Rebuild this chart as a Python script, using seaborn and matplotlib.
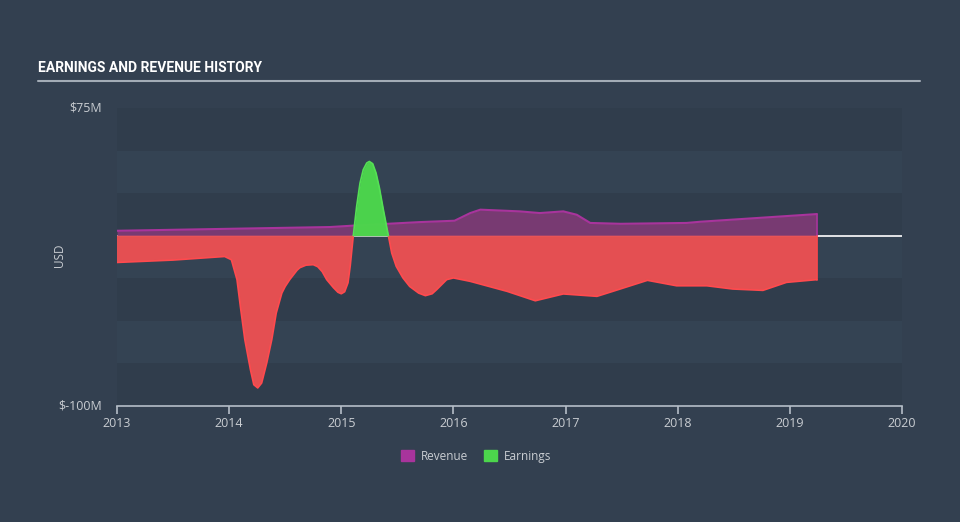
import numpy as np
import pandas as pd
import matplotlib
matplotlib.use("Agg")
import matplotlib.pyplot as plt
import matplotlib.patches as mpatches
import seaborn as sns

# ---- data (USD millions) ----
earn_years = [2013.00, 2013.50, 2013.96, 2014.02, 2014.07, 2014.10, 2014.14, 2014.19,
              2014.22, 2014.255, 2014.29, 2014.335, 2014.38, 2014.42, 2014.47, 2014.50,
              2014.54, 2014.605, 2014.63, 2014.685, 2014.75, 2014.79, 2014.83, 2014.87,
              2014.93, 2014.97, 2015.00, 2015.03, 2015.06, 2015.08, 2015.107,
              2015.137, 2015.167, 2015.196, 2015.227, 2015.25, 2015.28, 2015.31, 2015.34,
              2015.375, 2015.42,
              2015.45, 2015.49, 2015.55, 2015.61, 2015.69, 2015.75, 2015.81, 2015.85,
              2015.94, 2016.00, 2016.15, 2016.48, 2016.73, 2016.98,
              2017.28, 2017.42, 2017.73, 2017.99, 2018.26, 2018.49, 2018.76, 2018.97,
              2019.24]
earn_vals = [-15.7, -14.3, -12.2, -14.1, -25.8, -41.5, -61.1, -78.7,
             -87.5, -89.4, -86.5, -74.8, -61.1, -45.4, -33.7, -29.8,
             -25.8, -20.3, -18.8, -17.3, -17.0, -18.2, -21.1, -25.8,
             -30.5, -33.2, -34.1, -32.9, -27.6, -17.6, 0.0,
             17.2, 30.9, 38.8, 42.7, 43.6, 42.3, 36.8, 28.0,
             15.3, 0.0,
             -10.2, -18.0, -24.8, -29.8, -33.7, -35.2, -34.1, -31.7,
             -25.8, -24.8, -26.8, -32.7, -38.2, -34.2,
             -35.6, -32.7, -26.2, -29.4, -29.4, -31.3, -32.1, -27.4,
             -25.8]

rev_years = [2013.00, 2014.90, 2015.10, 2015.70, 2016.01, 2016.15, 2016.24, 2016.59,
             2016.77, 2016.98, 2017.10, 2017.22, 2017.49, 2018.08, 2018.20, 2019.24]
rev_vals = [2.9, 5.1, 5.9, 8.0, 8.8, 13.3, 15.3, 14.3,
            13.3, 14.3, 12.3, 7.5, 7.0, 7.5, 8.2, 12.7]

x_ticks = [2013, 2014, 2015, 2016, 2017, 2018, 2019, 2020]
y_tick_vals = [75, -100]
y_tick_labels = ["$75M", "$-100M"]

# ---- style ----
FIG_BG = "#334050"
BAND_DARK = "#303d4c"
BAND_LIGHT = "#344353"
TXT = "#c9cdd2"
REV_FILL = "#7b3a74"
REV_LINE = "#a8349c"
NEG_FILL = "#eb5052"
NEG_LINE = "#ff4a4e"
POS_FILL = "#4cd64c"
POS_LINE = "#55e055"

sns.set_theme(style="dark")
plt.rcParams["font.family"] = ["Open Sans", "DejaVu Sans"]

fig = plt.figure(figsize=(9.6, 5.22), dpi=100, facecolor=FIG_BG)
ax = fig.add_axes([117 / 960, 1 - 406 / 522, (902 - 117) / 960, (406 - 108) / 522])
ax.set_facecolor(FIG_BG)

# horizontal bands
edges = list(range(-100, 76, 25))
for i in range(len(edges) - 1):
    col = BAND_DARK if i % 2 == 0 else BAND_LIGHT
    ax.axhspan(edges[i], edges[i + 1], color=col, lw=0, zorder=0)

# zero line
ax.axhline(0, color="white", lw=1.2, zorder=1)

e = np.array(earn_vals)
ey = np.array(earn_years)

# revenue first, earnings on top
ax.fill_between(rev_years, 0, rev_vals, color=REV_FILL, lw=0, alpha=0.97, zorder=2)
df_r = pd.DataFrame({"year": rev_years, "value": rev_vals})
sns.lineplot(data=df_r, x="year", y="value", ax=ax, color=REV_LINE, lw=1.5, zorder=3,
             estimator=None, sort=False)
ax.plot([rev_years[-1]] * 2, [0, rev_vals[-1]], color=REV_LINE, lw=1.2, zorder=3)

ax.fill_between(ey, 0, e, where=e <= 0, interpolate=True, color=NEG_FILL, lw=0, alpha=0.97, zorder=4)
ax.fill_between(ey, 0, e, where=e >= 0, interpolate=True, color=POS_FILL, lw=0, alpha=0.98, zorder=4)

# outline segments split at zero crossings
cur = 0
sign = np.sign(e[0])
rows = []
for i, (x, v) in enumerate(zip(ey, e)):
    s = np.sign(v) if v != 0 else 0
    if s != 0 and s != sign:
        cur += 1
        sign = s
        rows.append((ey[i - 1], 0.0, cur, "pos" if s > 0 else "neg"))
    rows.append((x, v, cur, "pos" if sign > 0 else "neg"))
df_e = pd.DataFrame(rows, columns=["year", "value", "seg", "kind"])
for k, c in [("neg", NEG_LINE), ("pos", POS_LINE)]:
    sub = df_e[df_e["kind"] == k]
    sns.lineplot(data=sub, x="year", y="value", units="seg", ax=ax, color=c, lw=1.2,
                 zorder=5, estimator=None, sort=False)
ax.plot([earn_years[-1]] * 2, [0, earn_vals[-1]], color=NEG_LINE, lw=1.2, zorder=5)

ax.set_xlim(2013, 2020)
ax.set_ylim(-100, 75)
ax.set_xticks(x_ticks)
ax.set_xticklabels([str(t) for t in x_ticks])
ax.set_yticks(y_tick_vals)
ax.set_yticklabels(y_tick_labels)
ax.set_xlabel("")
ax.set_ylabel("")
ax.grid(False)
for s in ["top", "right", "left"]:
    ax.spines[s].set_visible(False)
ax.spines["bottom"].set_color("#b5bec8")
ax.spines["bottom"].set_linewidth(1.2)
ax.tick_params(axis="x", colors=TXT, labelsize=9, length=6, width=1.2, direction="out",
               pad=2, color="#b5bec8", bottom=True)
ax.tick_params(axis="y", colors=TXT, labelsize=9, length=0, pad=11)
for lab in ax.get_yticklabels():
    lab.set_verticalalignment("center")

fig.text(60 / 960, 1 - 255 / 522, "USD", rotation=90, color=TXT, fontsize=8.5,
         ha="center", va="center")

# title
fig.text(38 / 960, 1 - 68 / 522, "EARNINGS AND REVENUE HISTORY", color="white",
         fontsize=10, fontweight="bold", ha="left", va="center",
         family=["Roboto", "DejaVu Sans"])
fig.add_artist(plt.Line2D([38 / 960, 920 / 960], [1 - 81 / 522] * 2, color="#a3acb6", lw=1.5))

# legend
handles = [mpatches.Patch(color="#a8349c", label="Revenue"),
           mpatches.Patch(color=POS_FILL, label="Earnings")]
leg = fig.legend(handles=handles, loc="center", bbox_to_anchor=(476 / 960, 1 - 456 / 522),
                 ncol=2, frameon=False, fontsize=8.5, handlelength=1.1, handleheight=1.1,
                 columnspacing=1.4, handletextpad=0.55)
for t in leg.get_texts():
    t.set_color(TXT)

fig.savefig("out.png", dpi=100, facecolor=FIG_BG)
